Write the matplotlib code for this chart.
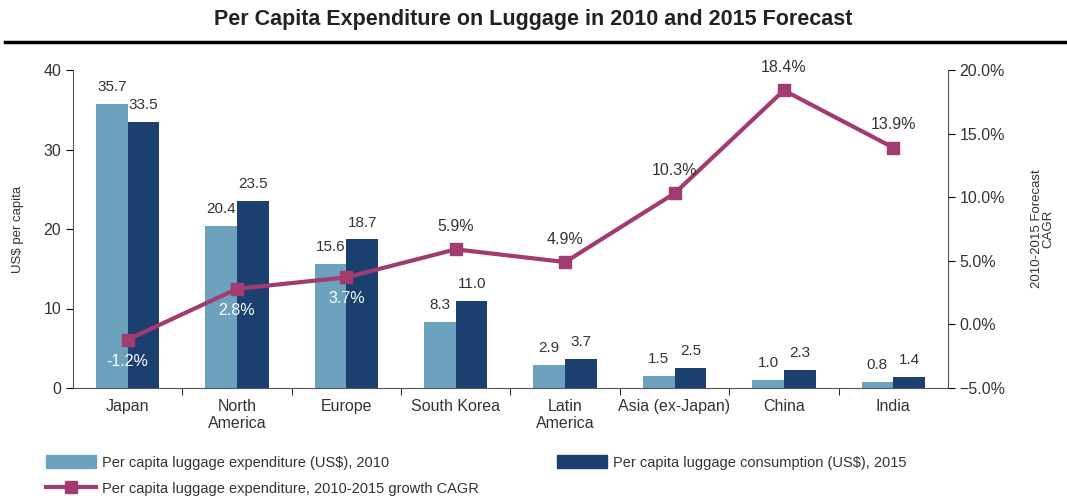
import numpy as np
import matplotlib.pyplot as plt
from matplotlib.lines import Line2D
from matplotlib.ticker import PercentFormatter

plt.rcParams['font.family'] = ['Liberation Sans', 'DejaVu Sans']

regions = ['Japan', 'North\nAmerica', 'Europe', 'South Korea', 'Latin\nAmerica',
           'Asia (ex-Japan)', 'China', 'India']
exp_2010 = [35.7, 20.4, 15.6, 8.3, 2.9, 1.5, 1.0, 0.8]
cons_2015 = [33.5, 23.5, 18.7, 11.0, 3.7, 2.5, 2.3, 1.4]
cagr = [-1.2, 2.8, 3.7, 5.9, 4.9, 10.3, 18.4, 13.9]
cagr_below = [True, True, True, False, False, False, False, False]

c2010 = '#6ca2bd'
c2015 = '#1b3f6f'
cline = '#a23b70'
txt = '#333333'

fig = plt.figure(figsize=(10.67, 5), dpi=100)
ax = fig.add_axes([0.0684, 0.224, 0.82, 0.636])
x = np.arange(len(regions))
w = 0.29

b1 = ax.bar(x - w / 2, exp_2010, w, color=c2010)
b2 = ax.bar(x + w / 2, cons_2015, w, color=c2015)
for bars, vals in ((b1, exp_2010), (b2, cons_2015)):
    for r, v in zip(bars, vals):
        ax.annotate(f'{v:.1f}', (r.get_x() + r.get_width() / 2, v),
                    xytext=(0, 7), textcoords='offset points',
                    ha='center', va='bottom', fontsize=11, color=txt)

ax.set_xlim(-0.5, len(regions) - 0.5)
ax.set_ylim(0, 40)
ax.set_yticks([0, 10, 20, 30, 40])
ax.set_xticks(x)
ax.set_xticklabels(regions, fontsize=11.5, color=txt, linespacing=1.15)
ax.set_xticks(x[:-1] + 0.5, minor=True)
ax.tick_params(axis='x', which='major', length=0, pad=8)
ax.tick_params(axis='x', which='minor', length=5, direction='out')
ax.tick_params(axis='y', labelsize=11.5, labelcolor=txt, length=5)
ax.set_ylabel('US$ per capita', fontsize=9.5, color=txt, labelpad=14)
ax.spines['top'].set_visible(False)
ax.spines['right'].set_visible(False)
for s in ('left', 'bottom'):
    ax.spines[s].set_color('#555555')

ax2 = ax.twinx()
ax2.plot(x, cagr, color=cline, lw=3, marker='s', ms=9)
ax2.set_ylim(-5, 20)
ax2.set_yticks([-5, 0, 5, 10, 15, 20])
ax2.yaxis.set_major_formatter(PercentFormatter(decimals=1))
ax2.tick_params(axis='y', labelsize=11.5, labelcolor=txt, length=5)
ax2.spines['top'].set_visible(False)
ax2.spines['left'].set_visible(False)
ax2.spines['bottom'].set_visible(False)
ax2.spines['right'].set_color('#555555')
ax2.set_ylabel('2010-2015 Forecast\nCAGR', fontsize=9.5, color=txt,
               rotation=90, labelpad=18, linespacing=1.0)
for xi, v, below in zip(x, cagr, cagr_below):
    if below:
        ax2.annotate(f'{v:.1f}%', (xi, v), xytext=(0, -10), textcoords='offset points',
                     ha='center', va='top', fontsize=11.5, color='white')
    else:
        ax2.annotate(f'{v:.1f}%', (xi, v), xytext=(0, 11), textcoords='offset points',
                     ha='center', va='bottom', fontsize=11.5, color=txt)

fig.text(0.5, 0.962, 'Per Capita Expenditure on Luggage in 2010 and 2015 Forecast',
         ha='center', va='center', fontsize=15.5, fontweight='bold', color='#222222')
fig.add_artist(Line2D([0.005, 1.0], [0.916, 0.916], color='black', lw=2.5))

h1 = plt.Rectangle((0, 0), 1, 1, color=c2010)
h2 = plt.Rectangle((0, 0), 1, 1, color=c2015)
h3 = Line2D([], [], color=cline, lw=3, marker='s', ms=8)
fig.legend([h1, h3, h2],
           ['Per capita luggage expenditure (US$), 2010',
            'Per capita luggage expenditure, 2010-2015 growth CAGR',
            'Per capita luggage consumption (US$), 2015'],
           ncol=2, loc='lower left', bbox_to_anchor=(0.031, -0.018), frameon=False,
           fontsize=10.5, handlelength=3.4, handleheight=1.0, handletextpad=0.4,
           columnspacing=5.4, labelspacing=0.8, labelcolor=txt)

plt.savefig('out.png', dpi=100)
